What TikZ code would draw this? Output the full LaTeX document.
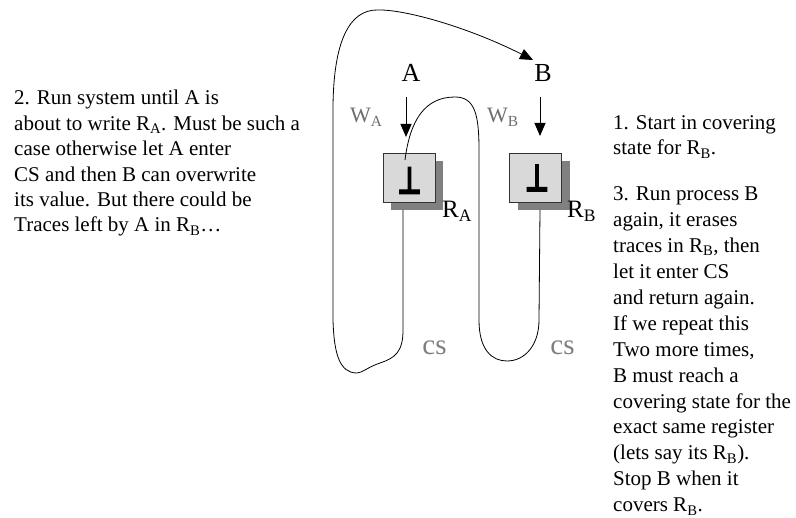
\documentclass[tikz,border=0pt]{standalone}
\usepackage{fontspec}
\setmainfont{Liberation Serif}
\newfontfamily\botfont{DejaVu Sans}[BoldFeatures={FakeBold=3}]
\usetikzlibrary{arrows.meta,shadows}
\definecolor{boxfill}{HTML}{D9D9D9}
\definecolor{shade}{HTML}{808080}
\definecolor{labgray}{HTML}{6E6E6E}
\definecolor{csgray}{HTML}{7F7F7F}
\tikzset{
  txt/.style={font=\fontsize{21}{25.4}\selectfont, align=left, inner sep=0, anchor=base west},
  reg/.style={draw=black!80, line width=0.8pt, fill=boxfill, minimum width=52pt, minimum height=49pt, inner sep=0,
    drop shadow={shadow xshift=8pt, shadow yshift=-8pt, fill=shade, opacity=1}},
  bot/.style={font=\fontsize{38}{38}\botfont\bfseries, inner sep=0, xscale=0.7},
  proc/.style={font=\fontsize{26}{26}\selectfont, inner sep=0, anchor=base},
  wlab/.style={font=\fontsize{22}{22}\selectfont, text=labgray, inner sep=0, anchor=base west},
  rlab/.style={font=\fontsize{25}{25}\selectfont, inner sep=0, anchor=base west},
  cslab/.style={font=\fontsize{29}{29}\selectfont, text=csgray, inner sep=0, anchor=base},
  conn/.style={line width=0.8pt},
  arr/.style={line width=1pt, -{Triangle[length=13pt,width=11pt]}}
}
\begin{document}
\begin{tikzpicture}[x=1pt,y=-1pt]
\useasboundingbox (0,0) rectangle (796,518);
% texts (anchored at the baseline of their last line)
\node[txt] (t2) at (14,232) {2. Run system until A is\\about to write R\textsubscript{A}. Must be such a\\case otherwise let A enter\\CS and then B can overwrite\\its value. But there could be\\Traces left by A in R\textsubscript{B}\dots};
\node[txt, font=\fontsize{21}{25}\selectfont] (t1) at (613,155) {1. Start in covering\\state for R\textsubscript{B}.};
\node[txt, font=\fontsize{21}{26}\selectfont] (t3) at (613,512) {3. Run process B\\again, it erases\\traces in R\textsubscript{B}, then\\let it enter CS\\and return again.\\If we repeat this\\Two more times,\\B must reach a\\covering state for the\\exact same register\\(lets say its R\textsubscript{B}).\\Stop B when it\\covers R\textsubscript{B}.};
% process labels
\node[proc] (A) at (411,82) {A};
\node[proc] (B) at (543,82) {B};
\node[wlab] (wA) at (350,123) {W\textsubscript{A}};
\node[wlab] (wB) at (487,123) {W\textsubscript{B}};
% registers
\node[reg] (boxA) at (409,177.5) {};
\node[reg] (boxB) at (535.5,177.5) {};
\node[bot] (botA) at (409.5,180.5) {⊥};
\node[bot] (botB) at (537,178) {⊥};
\node[rlab] (rA) at (442,218) {R\textsubscript{A}};
\node[rlab] (rB) at (567,218) {R\textsubscript{B}};
\node[cslab] (csA) at (434.5,355) {cs};
\node[cslab] (csB) at (562.5,355) {cs};
% write arrows
\coordinate (wAs) at (406,97);
\coordinate (wAe) at (406,137);
\coordinate (wBs) at (540,97);
\coordinate (wBe) at (540,136);
\draw[arr] (wAs) -- (wAe);
\draw[arr] (wBs) -- (wBe);
% loops
\coordinate (l1s) at (403,210);
\coordinate (l1e) at (533,60);
\draw[conn, -{Triangle[length=13pt,width=11pt]}] (l1s) -- (403,330)
  .. controls (403,352) and (395,358) .. (380,363)
  .. controls (368,367) and (362,373) .. (357,373)
  .. controls (340,373) and (334,355) .. (333,320)
  -- (333,110)
  .. controls (333,40) and (350,10) .. (377,10)
  .. controls (405,9) and (470,28) .. (l1e);
\coordinate (l2s) at (405,160);
\coordinate (l2e) at (540,210);
\draw[conn] (l2s)
  .. controls (410,120) and (425,97) .. (455,97)
  .. controls (475,97) and (479,115) .. (479,150)
  -- (479,320)
  .. controls (479,350) and (492,361) .. (507,361)
  .. controls (525,361) and (539,345) .. (539,320)
  -- (l2e);
\end{tikzpicture}
\end{document}
